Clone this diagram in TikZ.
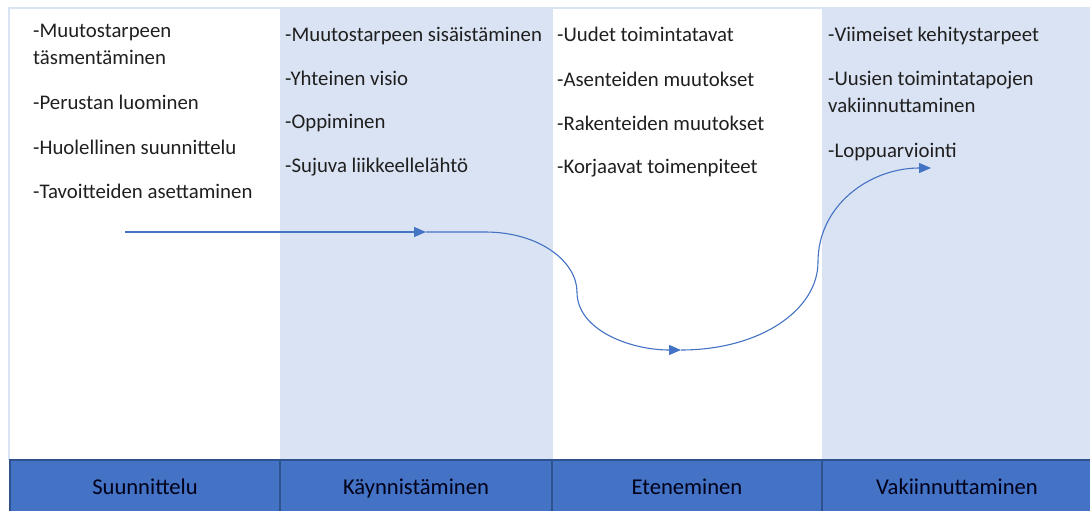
\documentclass[tikz,border=0pt]{standalone}
\usepackage{fontspec}
\setmainfont{Carlito}
\usetikzlibrary{arrows.meta}
\definecolor{barblue}{HTML}{4472C4}
\definecolor{bardark}{HTML}{2F528F}
\definecolor{paleblue}{HTML}{DAE3F3}
\tikzset{
  item/.style={anchor=base west,inner sep=0pt,font=\fontsize{20.8}{27.5}\selectfont,text=black!88,align=left},
  phase/.style={anchor=base,inner sep=0pt,font=\fontsize{22.6}{24}\selectfont,text=black!90!blue},
  flow/.style={draw=barblue,line width=1.1pt,-{Triangle[length=12pt,width=10pt]}}
}
\begin{document}
\begin{tikzpicture}[x=1pt,y=-1pt]
  \useasboundingbox (0,0) rectangle (1090,511);

  % columns
  \fill[paleblue] (280,9) rectangle (553,460);
  \fill[paleblue] (822,9) rectangle (1090,460);
  \draw[paleblue,line width=2pt] (1090,8) -- (9,8) -- (9,460);

  % phase bar
  \foreach \xa/\xb/\nm/\txt in {10/280/p1/Suunnittelu,280/552/p2/Käynnistäminen,552/822/p3/Eteneminen,822/1092/p4/Vakiinnuttaminen}
  {
    \draw[fill=barblue,draw=bardark,line width=1.5pt] (\xa,460) rectangle (\xb,515);
    \node[phase] (\nm) at ({(\xa+\xb)/2},494) {\txt};
  }

  % Suunnittelu
  \node[item] (s1) at (33,65) {-Muutostarpeen\\täsmentäminen};
  \node[item] (s2) at (33,109.5) {-Perustan luominen};
  \node[item] (s3) at (33,154) {-Huolellinen suunnittelu};
  \node[item] (s4) at (33,198) {-Tavoitteiden asettaminen};

  % Käynnistäminen
  \node[item] (k1) at (285,41.5) {-Muutostarpeen sisäistäminen};
  \node[item] (k2) at (285,85) {-Yhteinen visio};
  \node[item] (k3) at (285,128.5) {-Oppiminen};
  \node[item] (k4) at (285,172.5) {-Sujuva liikkeellelähtö};

  % Eteneminen
  \node[item] (e1) at (557,42) {-Uudet toimintatavat};
  \node[item] (e2) at (557,86) {-Asenteiden muutokset};
  \node[item] (e3) at (557,130) {-Rakenteiden muutokset};
  \node[item] (e4) at (557,173) {-Korjaavat toimenpiteet};

  % Vakiinnuttaminen
  \node[item] (v1) at (828,42) {-Viimeiset kehitystarpeet};
  \node[item] (v2) at (828,113) {-Uusien toimintatapojen\\vakiinnuttaminen};
  \node[item] (v3) at (828,157) {-Loppuarviointi};

  % kulku
  \coordinate (c0) at (125,232);
  \coordinate (c1) at (426,232);
  \coordinate (c2) at (681,350);
  \coordinate (c3) at (931,168);
  \draw[flow] (c0) -- (c1);
  \draw[flow] (c1) -- (485,232) .. controls (540,232) and (577,262) .. (577,292)
    .. controls (577,330) and (630,350) .. (c2);
  \draw[flow] (c2) .. controls (760,350) and (818,310) .. (818,262)
    .. controls (818,205) and (870,168) .. (c3);
\end{tikzpicture}
\end{document}
